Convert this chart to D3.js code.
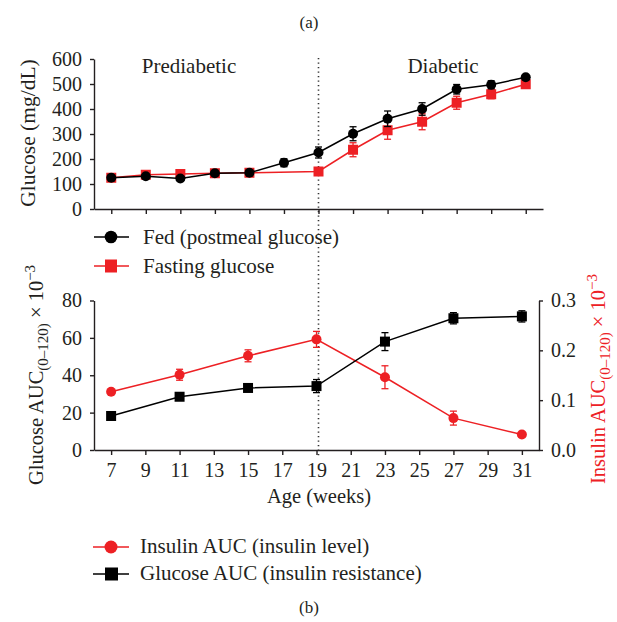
<!DOCTYPE html>
<html>
<head>
<meta charset="utf-8">
<script src="https://cdn.jsdelivr.net/npm/d3@7"></script>
<style>
  body { margin: 0; background: #fff; }
  svg text { font-family: "Liberation Serif", "DejaVu Serif", serif; fill: #231f20; }
</style>
</head>
<body>
<div id="chart"></div>
<script>
// data
const weeksFed = [7, 9, 11, 13, 15, 17, 19, 21, 23, 25, 27, 29, 31];
const fedGlucose = [125, 131, 122, 143, 145, 185, 226, 301, 361, 400, 479, 497, 527];
const fedErr = [6, 5, 5, 6, 5, 16, 22, 28, 31, 25, 19, 16, 6];

const weeksFasting = [7, 9, 11, 13, 15, 19, 21, 23, 25, 27, 29, 31];
const fastingGlucose = [125, 137, 140, 143, 145, 150, 237, 315, 349, 425, 459, 499];
const fastingErr = [5, 5, 5, 5, 5, 6, 28, 36, 32, 26, 18, 6];

const weeksAUC = [7, 11, 15, 19, 23, 27, 31];
const glucoseAUC = [18.2, 28.5, 33.2, 34.2, 58, 70.5, 71.5];
const glucoseAUCErr = [1, 1, 1, 3.5, 4.8, 3, 3];
const insulinAUC = [0.117, 0.151, 0.189, 0.222, 0.146, 0.064, 0.031];
const insulinAUCErr = [0.003, 0.011, 0.012, 0.016, 0.023, 0.014, 0.003];

const xTicks = [7, 9, 11, 13, 15, 17, 19, 21, 23, 25, 27, 29, 31];
const yTopTicks = [0, 100, 200, 300, 400, 500, 600];
const yLeftTicks = [0, 20, 40, 60, 80];
const yRightTicks = [0, 0.1, 0.2, 0.3];

const red = "#ed2024";
const W = 617, H = 622;

const svg = d3.select("#chart").append("svg")
    .attr("width", W)
    .attr("height", H);

// scales
const xTop = d3.scaleLinear().domain([6, 32]).range([94, 543]);
const yTop = d3.scaleLinear().domain([0, 600]).range([209, 59]);
const xBot = d3.scaleLinear().domain([6, 32]).range([94, 539]);
const yLeft = d3.scaleLinear().domain([0, 80]).range([450, 300.5]);
const yRight = d3.scaleLinear().domain([0, 0.3]).range([450, 300.5]);

function styleAxis(g) {
    g.selectAll("path, line").attr("stroke", "#231f20").attr("stroke-width", 1.4);
    g.selectAll("text").attr("font-size", "20px").attr("fill", "#231f20")
        .attr("font-family", "Liberation Serif, serif");
}

// panel labels
svg.append("text").attr("x", 309).attr("y", 28).attr("text-anchor", "middle")
    .attr("font-size", "17px").text("(a)");
svg.append("text").attr("x", 309).attr("y", 613).attr("text-anchor", "middle")
    .attr("font-size", "17px").text("(b)");

// dotted line at week 19
svg.append("line")
    .attr("x1", xTop(19)).attr("x2", xTop(19))
    .attr("y1", 58).attr("y2", 456)
    .attr("stroke", "#333")
    .attr("stroke-width", 1.6)
    .attr("stroke-dasharray", "1.3,3.2");

// ---------- top chart ----------
svg.append("g")
    .attr("transform", "translate(0,209)")
    .call(d3.axisBottom(xTop).tickValues(xTicks).tickFormat("").tickSize(5).tickSizeOuter(0))
    .call(styleAxis);

svg.append("g")
    .attr("transform", "translate(94,0)")
    .call(d3.axisLeft(yTop).tickValues(yTopTicks).tickSize(4).tickSizeOuter(0).tickPadding(8))
    .call(styleAxis);

svg.append("text")
    .attr("transform", "translate(35,133) rotate(-90)")
    .attr("text-anchor", "middle")
    .attr("font-size", "21.5px")
    .text("Glucose (mg/dL)");

svg.append("text").attr("x", 189).attr("y", 73).attr("text-anchor", "middle")
    .attr("font-size", "21px").text("Prediabetic");
svg.append("text").attr("x", 443).attr("y", 73).attr("text-anchor", "middle")
    .attr("font-size", "21px").text("Diabetic");

function errorBars(g, xs, ys, es, x, y, color) {
    const eb = g.append("g").attr("stroke", color).attr("stroke-width", 1.3);
    xs.forEach((w, i) => {
        const cx = x(w), y1 = y(ys[i] - es[i]), y2 = y(ys[i] + es[i]);
        eb.append("line").attr("x1", cx).attr("x2", cx).attr("y1", y1).attr("y2", y2);
        eb.append("line").attr("x1", cx - 3.5).attr("x2", cx + 3.5).attr("y1", y1).attr("y2", y1);
        eb.append("line").attr("x1", cx - 3.5).attr("x2", cx + 3.5).attr("y1", y2).attr("y2", y2);
    });
}

const topG = svg.append("g");

// fasting (red squares)
topG.append("path")
    .datum(weeksFasting.map((w, i) => [w, fastingGlucose[i]]))
    .attr("fill", "none").attr("stroke", red).attr("stroke-width", 1.5)
    .attr("d", d3.line().x(d => xTop(d[0])).y(d => yTop(d[1])));
errorBars(topG, weeksFasting, fastingGlucose, fastingErr, xTop, yTop, red);
topG.selectAll(".fsq").data(weeksFasting).enter().append("rect")
    .attr("x", d => xTop(d) - 5).attr("y", (d, i) => yTop(fastingGlucose[i]) - 5)
    .attr("width", 10).attr("height", 10).attr("fill", red);

// fed (black circles)
topG.append("path")
    .datum(weeksFed.map((w, i) => [w, fedGlucose[i]]))
    .attr("fill", "none").attr("stroke", "#000").attr("stroke-width", 1.5)
    .attr("d", d3.line().x(d => xTop(d[0])).y(d => yTop(d[1])));
errorBars(topG, weeksFed, fedGlucose, fedErr, xTop, yTop, "#000");
topG.selectAll(".fc").data(weeksFed).enter().append("circle")
    .attr("cx", d => xTop(d)).attr("cy", (d, i) => yTop(fedGlucose[i]))
    .attr("r", 5).attr("fill", "#000");

// top legend
const leg1 = svg.append("g");
leg1.append("line").attr("x1", 94).attr("x2", 129).attr("y1", 237).attr("y2", 237)
    .attr("stroke", "#000").attr("stroke-width", 1.5);
leg1.append("circle").attr("cx", 111).attr("cy", 237).attr("r", 6.3).attr("fill", "#000");
leg1.append("text").attr("x", 143).attr("y", 244).attr("font-size", "21px")
    .text("Fed (postmeal glucose)");
leg1.append("line").attr("x1", 94).attr("x2", 129).attr("y1", 266).attr("y2", 266)
    .attr("stroke", red).attr("stroke-width", 1.5);
leg1.append("rect").attr("x", 105).attr("y", 259.5).attr("width", 12).attr("height", 13).attr("fill", red);
leg1.append("text").attr("x", 143).attr("y", 273).attr("font-size", "21px")
    .text("Fasting glucose");

// ---------- bottom chart ----------
svg.append("g")
    .attr("transform", "translate(0,450)")
    .call(d3.axisBottom(xBot).tickValues(xTicks).tickSize(5).tickSizeOuter(0).tickPadding(8))
    .call(styleAxis);

svg.append("g")
    .attr("transform", "translate(94,0)")
    .call(d3.axisLeft(yLeft).tickValues(yLeftTicks).tickSize(4).tickSizeOuter(0).tickPadding(8))
    .call(styleAxis);

svg.append("g")
    .attr("transform", "translate(539,0)")
    .call(d3.axisRight(yRight).tickValues(yRightTicks).tickFormat(d3.format(".1f"))
        .tickSize(4).tickSizeOuter(0).tickPadding(8))
    .call(styleAxis);

svg.append("text").attr("x", 319).attr("y", 503).attr("text-anchor", "middle")
    .attr("font-size", "20.5px").text("Age (weeks)");

const leftTitle = svg.append("text")
    .attr("transform", "translate(43,375) rotate(-90)")
    .attr("text-anchor", "middle")
    .attr("font-size", "20.5px");
leftTitle.append("tspan").text("Glucose AUC");
leftTitle.append("tspan").attr("font-size", "15px").attr("dy", 5).text("(0\u2013120)");
leftTitle.append("tspan").attr("dy", -5).text(" \u00d7 10");
leftTitle.append("tspan").attr("font-size", "15px").attr("dy", -8).text("\u22123");

const rightTitle = svg.append("text")
    .attr("transform", "translate(605,379) rotate(-90)")
    .attr("text-anchor", "middle")
    .attr("font-size", "20.5px")
    .style("fill", red);
rightTitle.append("tspan").style("fill", red).text("Insulin AUC");
rightTitle.append("tspan").style("fill", red).attr("font-size", "15px").attr("dy", 5).text("(0\u2013120)");
rightTitle.append("tspan").style("fill", red).attr("dy", -5).text(" \u00d7 10");
rightTitle.append("tspan").style("fill", red).attr("font-size", "15px").attr("dy", -8).text("\u22123");

const botG = svg.append("g");

// insulin AUC (red circles, right axis)
botG.append("path")
    .datum(weeksAUC.map((w, i) => [w, insulinAUC[i]]))
    .attr("fill", "none").attr("stroke", red).attr("stroke-width", 1.5)
    .attr("d", d3.line().x(d => xBot(d[0])).y(d => yRight(d[1])));
errorBars(botG, weeksAUC, insulinAUC, insulinAUCErr, xBot, yRight, red);
botG.selectAll(".ic").data(weeksAUC).enter().append("circle")
    .attr("cx", d => xBot(d)).attr("cy", (d, i) => yRight(insulinAUC[i]))
    .attr("r", 5).attr("fill", red);

// glucose AUC (black squares, left axis)
botG.append("path")
    .datum(weeksAUC.map((w, i) => [w, glucoseAUC[i]]))
    .attr("fill", "none").attr("stroke", "#000").attr("stroke-width", 1.5)
    .attr("d", d3.line().x(d => xBot(d[0])).y(d => yLeft(d[1])));
errorBars(botG, weeksAUC, glucoseAUC, glucoseAUCErr, xBot, yLeft, "#000");
botG.selectAll(".gs").data(weeksAUC).enter().append("rect")
    .attr("x", d => xBot(d) - 5).attr("y", (d, i) => yLeft(glucoseAUC[i]) - 5)
    .attr("width", 10).attr("height", 10).attr("fill", "#000");

// bottom legend
const leg2 = svg.append("g");
leg2.append("line").attr("x1", 93).attr("x2", 129).attr("y1", 547).attr("y2", 547)
    .attr("stroke", red).attr("stroke-width", 1.5);
leg2.append("circle").attr("cx", 111).attr("cy", 547).attr("r", 6.5).attr("fill", red);
leg2.append("text").attr("x", 140).attr("y", 553).attr("font-size", "21px")
    .text("Insulin AUC (insulin level)");
leg2.append("line").attr("x1", 93).attr("x2", 129).attr("y1", 574).attr("y2", 574)
    .attr("stroke", "#000").attr("stroke-width", 1.5);
leg2.append("rect").attr("x", 105).attr("y", 567.5).attr("width", 13).attr("height", 13).attr("fill", "#000");
leg2.append("text").attr("x", 140).attr("y", 580).attr("font-size", "21px")
    .text("Glucose AUC (insulin resistance)");
</script>
</body>
</html>
